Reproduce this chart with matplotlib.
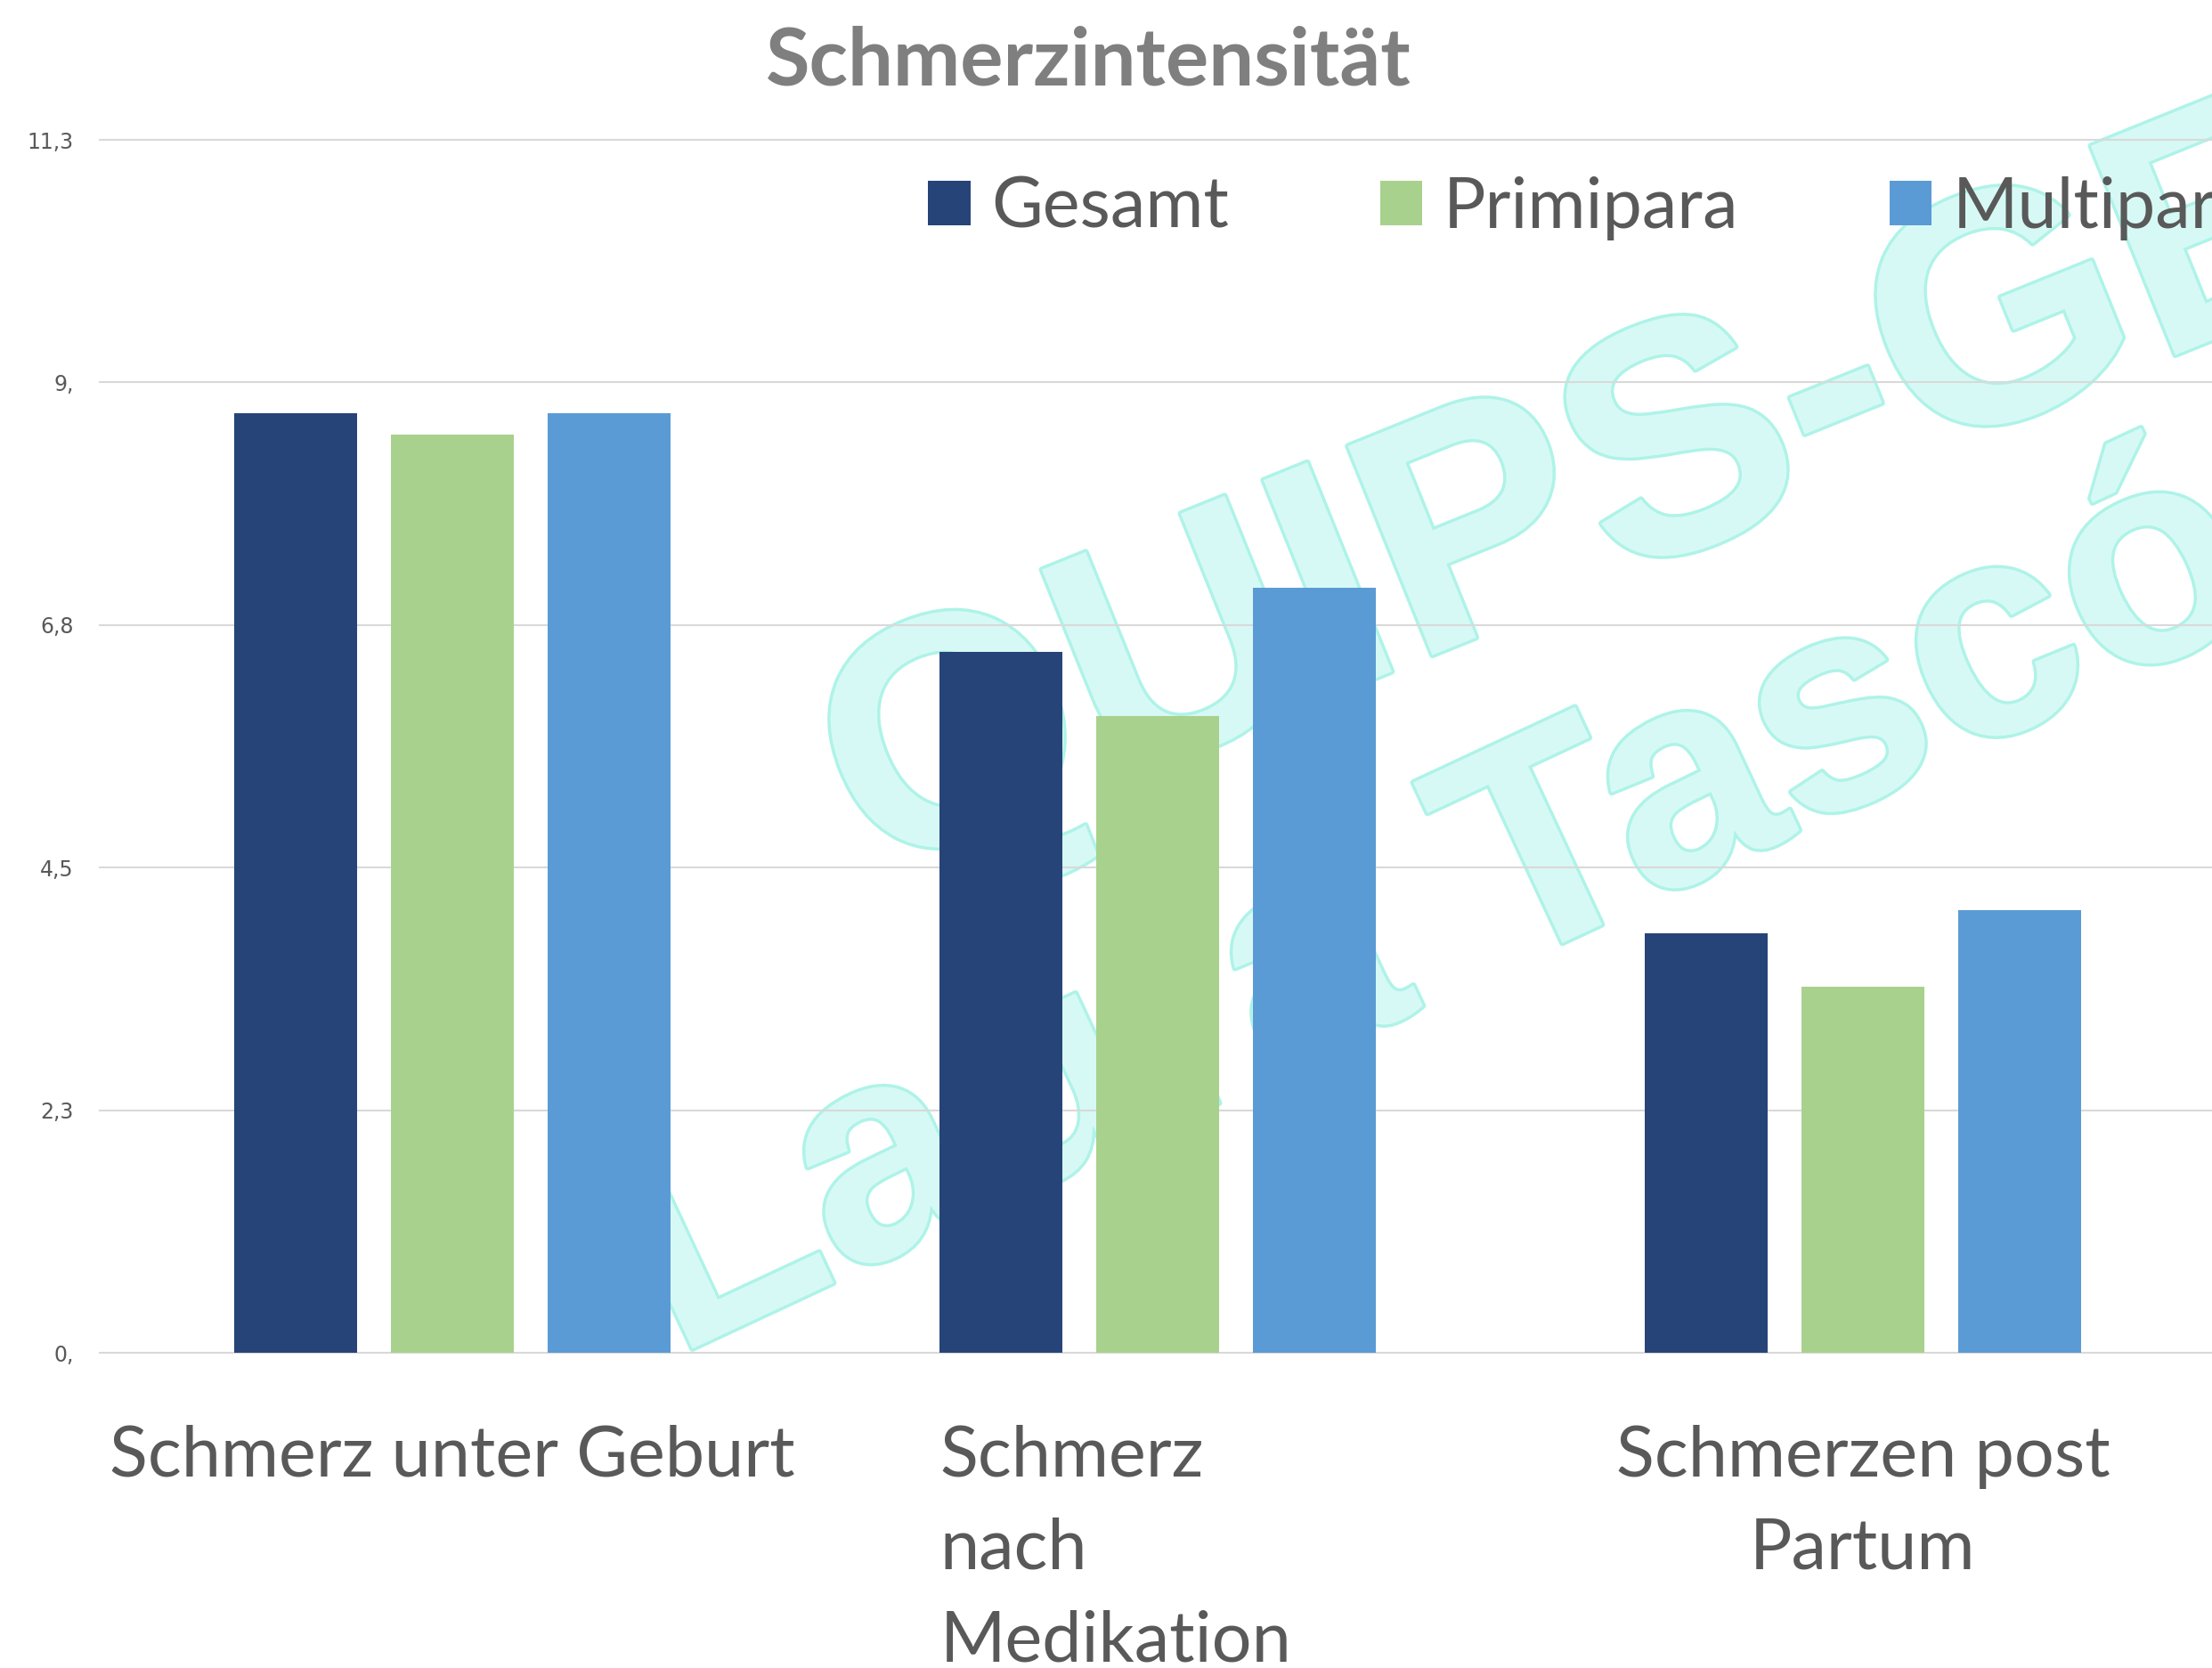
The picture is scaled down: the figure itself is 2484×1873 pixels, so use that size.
import matplotlib
matplotlib.use("Agg")
import matplotlib.pyplot as plt
from matplotlib.patches import Patch
from matplotlib.transforms import ScaledTranslation
import matplotlib.patheffects as pe
import numpy as np

# ---- data ----
categories = ["Schmerz unter Geburt", "Schmerz\nnach\nMedikation", "Schmerzen post\nPartum"]
series_names = ["Gesamt", "Primipara", "Multipara"]
gesamt = [8.75, 6.53, 3.91]
primipara = [8.55, 5.93, 3.41]
multipara = [8.75, 7.13, 4.12]
ytick_values = [0, 2.26, 4.52, 6.78, 9.04, 11.3]
ytick_labels = ["0,", "2,3", "4,5", "6,8", "9,", "11,3"]
title = "Schmerzintensität"
watermark_lines = ["QUIPS-GEBURT", "Laura Tascón"]

colors = ["#264478", "#A9D18E", "#5B9BD5"]
text_grey = "#595959"

W, H = 2484, 1873
fig = plt.figure(figsize=(W / 100, H / 100), dpi=100)
fig.patch.set_facecolor("white")

ax = fig.add_axes([112 / W, 1 - 1519 / H, (2488 - 112) / W, (1519 - 157) / H])
ax.set_facecolor("none")

x = np.arange(len(categories))
offsets = [-0.222, 0.0, 0.222]
width = 0.174
for vals, off, col, name in zip([gesamt, primipara, multipara], offsets, colors, series_names):
    ax.bar(x + off, vals, width, color=col, label=name, zorder=3)

ax.set_xlim(-0.5, 2.5)
ax.set_ylim(0, 11.3)
ax.set_yticks(ytick_values)
ax.set_yticklabels(ytick_labels, fontsize=17, color=text_grey, family="DejaVu Sans")
ax.tick_params(axis="y", length=0, pad=21)
ax.yaxis.grid(True, color="#d9d9d9", linewidth=1.5, zorder=1)
for gl in ax.get_ygridlines():
    gl.set_clip_on(False)
ax.set_axisbelow(True)
for s in ax.spines.values():
    s.set_visible(False)

ax.set_xticks(x)
ax.set_xticklabels(categories, fontsize=57, color=text_grey, family="Lato", linespacing=1.55)
ax.tick_params(axis="x", length=0, pad=58)
lbls = ax.get_xticklabels()
lbls[1].set_multialignment("left")
lbls[1].set_transform(lbls[1].get_transform() + ScaledTranslation(-0.47, 0, fig.dpi_scale_trans))

# title
fig.text(1222 / W, 1 - 95 / H, title, ha="center", va="baseline", fontsize=65,
         fontweight="bold", color="#7f7f7f", family="Lato")

# legend
handles = [Patch(facecolor=c, edgecolor="none") for c in colors]
fig.legend(handles, series_names, loc="center left", bbox_to_anchor=(1042 / W, 1 - 234 / H),
           ncol=3, frameon=False, prop={"family": "Lato", "size": 57},
           handlelength=0.6, handleheight=0.6, handletextpad=0.3, columnspacing=2.14,
           borderpad=0, borderaxespad=0, labelcolor=text_grey)

# watermark
wm_kw = dict(rotation_mode="anchor", ha="left", va="baseline",
             fontweight="bold", family="Liberation Sans", color="#d7f9f5", zorder=-5,
             path_effects=[pe.Stroke(linewidth=5, foreground="#aef3e8"), pe.Normal()])
fig.text(979 / W, 1 - 990 / H, watermark_lines[0], rotation=22, fontsize=265, **wm_kw)
fig.text(757 / W, 1 - 1524 / H, watermark_lines[1], rotation=25, fontsize=245, **wm_kw)

fig.savefig("out.png", dpi=100)
